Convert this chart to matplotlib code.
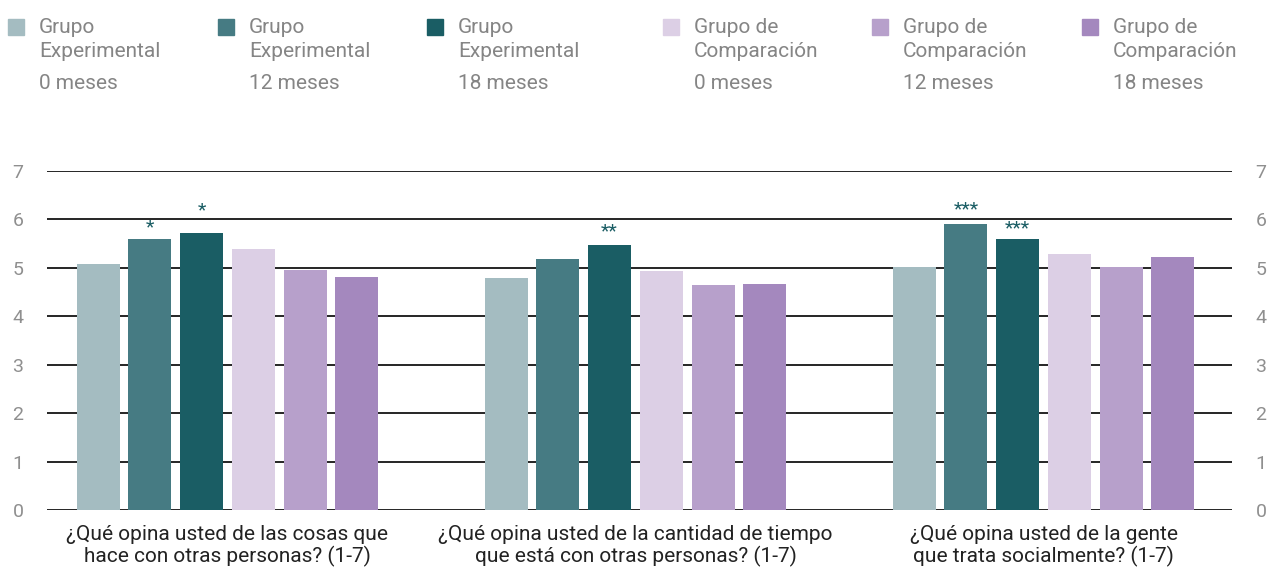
import matplotlib
matplotlib.use("Agg")
import matplotlib.pyplot as plt
from matplotlib.patches import Rectangle
import numpy as np

plt.rcParams['font.family'] = ['Roboto', 'DejaVu Sans']

categories = [
    "¿Qué opina usted de las cosas que\nhace con otras personas? (1-7)",
    "¿Qué opina usted de la cantidad de tiempo\nque está con otras personas? (1-7)",
    "¿Qué opina usted de la gente\nque trata socialmente? (1-7)",
]
series_names = [
    ("Grupo\nExperimental", "0 meses"),
    ("Grupo\nExperimental", "12 meses"),
    ("Grupo\nExperimental", "18 meses"),
    ("Grupo de\nComparación", "0 meses"),
    ("Grupo de\nComparación", "12 meses"),
    ("Grupo de\nComparación", "18 meses"),
]
colors = ["#a4bcc1", "#467b83", "#1a5d64", "#dccfe5", "#b7a0cb", "#a488be"]
values = [
    [5.08, 4.79, 5.02],   # Exp 0
    [5.60, 5.18, 5.91],   # Exp 12
    [5.72, 5.47, 5.60],   # Exp 18
    [5.39, 4.93, 5.29],   # Comp 0
    [4.96, 4.65, 5.01],   # Comp 12
    [4.81, 4.67, 5.22],   # Comp 18
]
# significance marks: (category index, series index, label, y of glyph centre)
stars = [
    (0, 1, "*", 5.88),
    (0, 2, "*", 6.22),
    (1, 2, "**", 5.80),
    (2, 1, "***", 6.24),
    (2, 2, "***", 5.86),
]
yticks = [0, 1, 2, 3, 4, 5, 6, 7]

W, H = 1274, 568
fig = plt.figure(figsize=(W / 100, H / 100), dpi=100)
ax = fig.add_axes([47 / W, 1 - 510 / H, (1232 - 47) / W, (510 - 171) / H])

pitch = 51.7 / 408
width = 43 / 408
x = np.arange(len(categories))
n = len(series_names)
for i in range(n):
    ax.bar(x + (i - (n - 1) / 2) * pitch, values[i], width=width,
           color=colors[i], zorder=3)

for ci, si, lab, yv in stars:
    xp = ci + (si - (n - 1) / 2) * pitch
    ax.annotate(lab, (xp, yv), xytext=(0, -5), textcoords='offset points',
                ha='center', va='baseline', fontsize=14, color="#1a5d64",
                zorder=4)

for t in yticks:
    ax.axhline(t, color="black", lw=1.2, zorder=1)

ax.set_xlim((47 - 227.5) / 408, (1232 - 227.5) / 408)
ax.set_ylim(0, 7)
ax.set_yticks(yticks)
ax.set_xticks(x)
ax.set_xticklabels(categories, fontsize=15, color="#222222", linespacing=1.1)
ax.tick_params(axis='x', length=0, pad=11)
ax.tick_params(axis='y', length=0, labelsize=14, labelcolor="#8f8f8f",
               labelleft=True, labelright=True, pad=17)
for s in ax.spines.values():
    s.set_visible(False)

# legend drawn manually
sq_x = [8, 218, 427, 663, 872, 1082]
for i, (name, sub) in enumerate(series_names):
    fig.patches.append(Rectangle((sq_x[i] / W, 1 - 35 / H), 16 / W, 16 / H,
                                 transform=fig.transFigure, color=colors[i]))
    fig.text((sq_x[i] + 31) / W, 1 - 18 / H, name, ha='left', va='top',
             fontsize=15, color="#858585", linespacing=1.32)
    fig.text((sq_x[i] + 31) / W, 1 - 74 / H, sub, ha='left', va='top',
             fontsize=15, color="#858585")

fig.savefig("out.png", dpi=100)
